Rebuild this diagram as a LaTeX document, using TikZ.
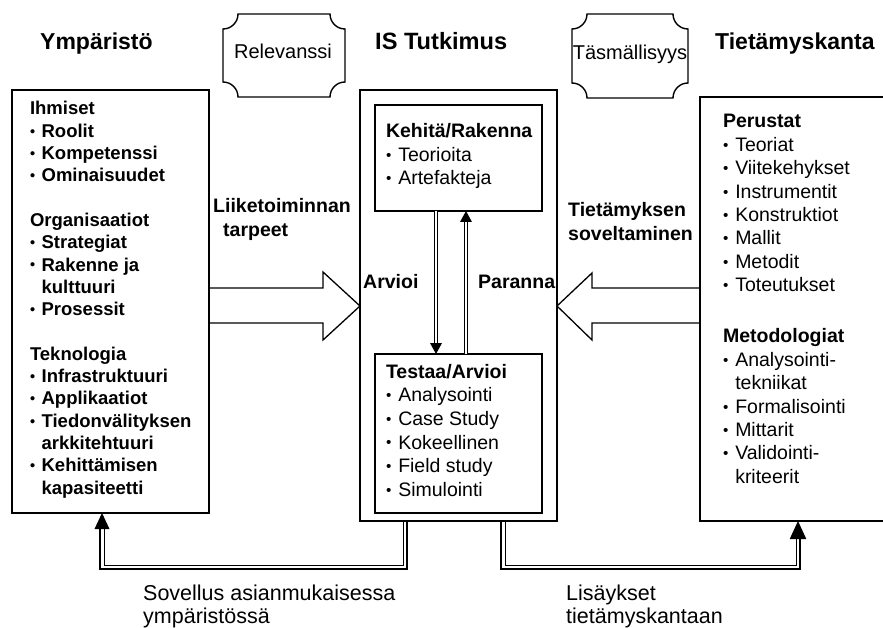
\documentclass[tikz,border=0pt]{standalone}
\usepackage{fontspec}
\usepackage{graphicx}
\setmainfont{Liberation Sans}
\usetikzlibrary{calc}
\newcommand\bu{\makebox[0.628em][l]{\raisebox{0.06em}{\scalebox{0.78}{•}}}}
\newcommand\bi{\hspace*{0.628em}}
\tikzset{
  frame/.style={draw, line width=1.5pt, inner sep=0pt, outer sep=0pt, anchor=north west},
  inframe/.style={draw, line width=1.3pt, inner sep=0pt, outer sep=0pt, anchor=north west},
  ghost/.style={inner sep=0pt, outer sep=0pt, anchor=north west},
  title/.style={font=\fontsize{23}{27}\selectfont\bfseries, anchor=base west, inner sep=0pt},
  lbl/.style={font=\fontsize{19.5}{23.4}\selectfont\bfseries, anchor=base west, inner sep=0pt},
  plain/.style={font=\fontsize{19.5}{23.4}\selectfont, anchor=base west, inner sep=0pt},
  plaquetext/.style={font=\fontsize{20}{24}\selectfont, anchor=base, inner sep=0pt},
  bottomtext/.style={font=\fontsize{21.5}{25}\selectfont, anchor=base west, inner sep=0pt},
  txt/.style={anchor=base west, inner sep=0pt, outer sep=0pt},
  plaque/.style={line width=1.4pt},
  blockarrow/.style={line width=1.3pt, line join=miter},
  dthin/.style={double, line width=0.8pt, double distance=2.2pt},
  outerline/.style={line width=1.8pt},
  innerline/.style={line width=0.7pt},
}
\begin{document}
\begin{tikzpicture}[x=1pt, y=-1pt]
\useasboundingbox (0,0) rectangle (883,628);
\clip (0,0) rectangle (883,628);
\fill[white] (0,0) rectangle (883,628);

% titles
\node[title] (tEnv) at (40,50) {Ympäristö};
\node[title, font=\fontsize{23.6}{28}\selectfont\bfseries] (tIS) at (375,50) {IS Tutkimus};
\node[title] (tKB) at (715,50) {Tietämyskanta};

% plaques
\node[ghost, minimum width=122pt, minimum height=83pt] (P1) at (223,14) {};
\node[ghost, minimum width=116pt, minimum height=84pt] (P2) at (572,14) {};
\foreach \p in {P1,P2}{
  \draw[plaque] ($(\p.north west)+(15,0)$) -- ($(\p.north east)+(-15,0)$)
    arc[start angle=180, end angle=90, radius=15]
    -- ($(\p.south east)+(0,-15)$)
    arc[start angle=270, end angle=180, radius=15]
    -- ($(\p.south west)+(15,0)$)
    arc[start angle=0, end angle=-90, radius=15]
    -- ($(\p.north west)+(0,15)$)
    arc[start angle=90, end angle=0, radius=15] -- cycle;
}
\node[plaquetext] (relv) at (283,59) {Relevanssi};
\node[plaquetext] (tasm) at (630,60) {Täsmällisyys};

% main boxes
\node[frame, minimum width=197pt, minimum height=423pt] (L) at (12,90) {};
\node[frame, minimum width=197pt, minimum height=431pt] (O) at (360,90) {};
\node[inframe, minimum width=167pt, minimum height=106pt] (K) at (375,105) {};
\node[inframe, minimum width=167pt, minimum height=159pt] (T) at (375,354) {};
\node[frame, minimum width=220pt, minimum height=424pt] (R) at (700,97) {};

% left box text
\node[txt] (Ltext) at (30,115) {\parbox[t]{178pt}{\fontsize{18.5}{22.3}\selectfont\bfseries
Ihmiset\\
\bu Roolit\\
\bu Kompetenssi\\
\bu Ominaisuudet\\[22.3pt]
Organisaatiot\\
\bu Strategiat\\
\bu Rakenne ja\\
\bi kulttuuri\\
\bu Prosessit\\[22.3pt]
Teknologia\\
\bu Infrastruktuuri\\
\bu Applikaatiot\\
\bu Tiedonvälityksen\\
\bi arkkitehtuuri\\
\bu Kehittämisen\\
\bi kapasiteetti}};

% inner boxes text
\node[txt] (Ktext) at (386,138) {\parbox[t]{150pt}{\fontsize{19.5}{23.5}\selectfont
\textbf{Kehitä/Rakenna}\\
\bu Teorioita\\
\bu Artefakteja}};
\node[txt] (Ttext) at (386,378) {\parbox[t]{150pt}{\fontsize{19.5}{23.7}\selectfont
\textbf{Testaa/Arvioi}\\
\bu Analysointi\\
\bu Case Study\\
\bu Kokeellinen\\
\bu Field study\\
\bu Simulointi}};

% right box text
\node[txt] (Rtext) at (723,128) {\parbox[t]{155pt}{\fontsize{19.5}{23.4}\selectfont
\textbf{Perustat}\\
\bu Teoriat\\
\bu Viitekehykset\\
\bu Instrumentit\\
\bu Konstruktiot\\
\bu Mallit\\
\bu Metodit\\
\bu Toteutukset\\[27.8pt]
\textbf{Metodologiat}\\
\bu Analysointi-\\
\bi tekniikat\\
\bu Formalisointi\\
\bu Mittarit\\
\bu Validointi-\\
\bi kriteerit}};

% labels
\node[lbl] (bn1) at (213,213) {Liiketoiminnan};
\node[lbl] (bn2) at (223,237) {tarpeet};
\node[lbl] (ak1) at (568,217) {Tietämyksen};
\node[lbl] (ak2) at (568,241) {soveltaminen};
\node[lbl] (arv) at (363,288) {Arvioi};
\node[lbl] (par) at (478,288) {Paranna};
\node[bottomtext] (ap1) at (143,600) {Sovellus asianmukaisessa};
\node[bottomtext] (ap2) at (143,623) {ympäristössä};
\node[bottomtext] (ad1) at (566,600) {Lisäykset};
\node[bottomtext] (ad2) at (566,623) {tietämyskantaan};

% block arrows
\draw[blockarrow] (L.east |- 0,288) -- (323,288) -- (323,272) -- (O.west |- 0,306)
  -- (323,340) -- (323,323) -- (L.east |- 0,323);
\draw[blockarrow] (R.west |- 0,288) -- (592,288) -- (592,273) -- (O.east |- 0,306)
  -- (592,340) -- (592,323) -- (R.west |- 0,323);

% inner vertical arrows
\coordinate (dx) at (436,0);
\coordinate (ux) at (466,0);
\draw[dthin] (K.south -| dx) -- ($(T.north -| dx)+(0,-11)$);
\fill ($(T.north -| dx)$) -- ++(-6,-11) -- ++(12,0) -- cycle;
\draw[dthin] (T.north -| ux) -- ($(K.south -| ux)+(0,11)$);
\fill ($(K.south -| ux)$) -- ++(-6,11) -- ++(12,0) -- cycle;

% bottom connectors
\coordinate (lx) at (102,0);
\coordinate (rx) at (798,0);
\draw[outerline] (O.south -| 407,0) -- (407,569) -- (100,569) -- (100,528);
\draw[innerline] (O.south -| 403,0) -- (403,565) -- (104,565) -- (104,528);
\fill (L.south -| lx) -- ++(-7.5,16) -- ++(15,0) -- cycle;
\draw[outerline] (O.south -| 501,0) -- (501,569) -- (800,569) -- (800,537);
\draw[innerline] (O.south -| 505,0) -- (505,565) -- (796,565) -- (796,537);
\fill (R.south -| rx) -- ++(-8.3,18) -- ++(16.6,0) -- cycle;
\end{tikzpicture}
\end{document}
